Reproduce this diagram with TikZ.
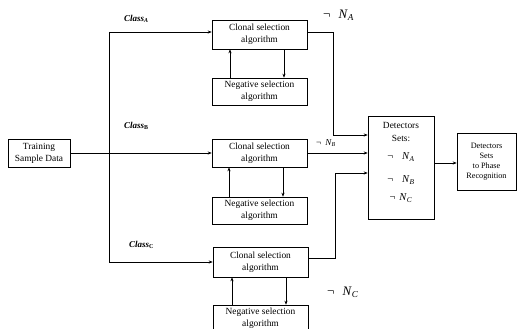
\documentclass[tikz,border=0pt]{standalone}
\usepackage{fontspec}
\setmainfont{Liberation Serif}
\usetikzlibrary{arrows.meta}
\tikzset{
  box/.style={draw,line width=0.6pt,align=center,font=\fontsize{9.4}{12}\selectfont,inner sep=1pt},
  arr/.style={-{Stealth[length=4pt,width=3.2pt]},line width=0.6pt},
  ln/.style={line width=0.6pt},
  cls/.style={font=\fontsize{9}{10}\selectfont\bfseries\itshape,inner sep=0pt},
  neg/.style={inner sep=0pt}
}
\newcommand{\nN}[1]{\textit{N}\textsubscript{\textit{#1}}}
\begin{document}
\begin{tikzpicture}[x=1pt,y=-1pt]
\clip (0,0) rectangle (517,329);
\fill[white] (0,0) rectangle (517,329);
% nodes
\node[box,minimum width=62pt,minimum height=28pt] (train) at (39,153) {Training\\Sample Data};
\node[box,minimum width=95pt,minimum height=29pt] (cA) at (259.5,34.5) {Clonal selection\\algorithm};
\node[box,minimum width=95pt,minimum height=27pt] (nA) at (259.5,91.5) {Negative selection\\algorithm};
\node[box,minimum width=95pt,minimum height=28pt] (cB) at (259.5,153) {Clonal selection\\algorithm};
\node[box,minimum width=95pt,minimum height=27pt] (nB) at (259.5,210.5) {Negative selection\\algorithm};
\node[box,minimum width=95pt,minimum height=30pt] (cC) at (260.5,262) {Clonal selection\\algorithm};
\node[box,minimum width=95pt,minimum height=27pt] (nC) at (260.5,318.5) {Negative selection\\algorithm};
\node[box,minimum width=66pt,minimum height=103pt] (det) at (401,167.5) {};
\node[box,minimum width=59pt,minimum height=57pt,font=\fontsize{8.2}{10}\selectfont] (ph) at (486.5,161.5) {Detectors\\Sets\\to Phase\\Recognition};
% detector text
\node[align=center,font=\fontsize{9.4}{13}\selectfont,inner sep=0pt] (dt) at (401,131.5) {Detectors\\Sets:};
\node[neg,font=\fontsize{10.5}{12}\selectfont] (dA) at (401,157) {¬\hspace{9pt}\nN{A}};
\node[neg,font=\fontsize{10.5}{12}\selectfont] (dB) at (401,180) {¬\hspace{9pt}\nN{B}};
\node[neg,font=\fontsize{10.5}{12}\selectfont] (dC) at (401,198) {¬\hspace{4pt}\nN{C}};
% class labels
\node[cls,anchor=west] (lA) at (124,19) {Class\textsubscript{\textit{A}}};
\node[cls,anchor=west] (lB) at (124,126) {Class\textsubscript{\upshape B}};
\node[cls,anchor=west] (lC) at (129,245) {Class\textsubscript{\upshape C}};
% not labels
\node[neg,anchor=west,font=\fontsize{13}{14}\selectfont] (xA) at (323,15) {¬\hspace{8pt}\nN{A}};
\node[neg,anchor=west,font=\fontsize{9}{10}\selectfont] (xB) at (316,143) {¬\hspace{4pt}\nN{B}};
\node[neg,anchor=west,font=\fontsize{13}{14}\selectfont] (xC) at (327,292) {¬\hspace{8pt}\nN{C}};
% branch
\coordinate (bt) at (109,32);
\coordinate (bb) at (109,262);
\draw[ln] (bt) -- (bb);
\draw[arr] (bt) -- (bt -| cA.west);
\draw[arr] (bb) -- (bb -| cC.west);
\draw[arr] (train.east) -- (cB.west);
% loops
\draw[arr] ([xshift=24.5pt]cA.south) -- ([xshift=24.5pt]nA.north);
\draw[arr] ([xshift=-29.5pt]nA.north) -- ([xshift=-29.5pt]cA.south);
\draw[arr] ([xshift=23.5pt]cB.south) -- ([xshift=23.5pt]nB.north);
\draw[arr] ([xshift=-30.5pt]nB.north) -- ([xshift=-30.5pt]cB.south);
\draw[arr] ([xshift=25.5pt]cC.south) -- ([xshift=25.5pt]nC.north);
\draw[arr] ([xshift=-28.5pt]nC.north) -- ([xshift=-28.5pt]cC.south);
% outputs
\coordinate (oA) at (333,32);
\coordinate (oC) at (335,258);
\draw[arr] (oA -| cA.east) -- (oA) |- (det.west |- 0,135);
\draw[arr] (cB.east) -- (det.west |- cB.east);
\draw[arr] (oC -| cC.east) -- (oC) |- (det.west |- 0,173);
\draw[arr] (det.east |- 0,163) -- (ph.west |- 0,163);
\end{tikzpicture}
\end{document}
